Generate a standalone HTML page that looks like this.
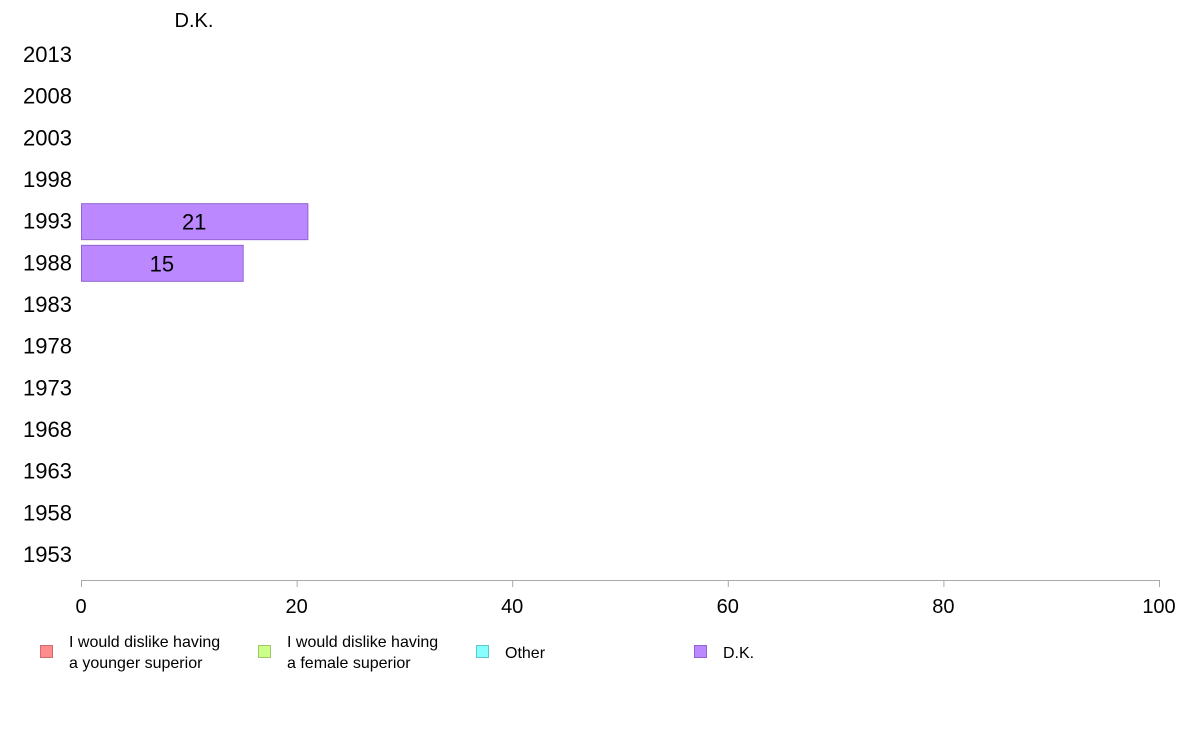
<!DOCTYPE html>
<html><head><meta charset="utf-8"><style>
body{margin:0;background:#fff;width:1188px;height:736px;overflow:hidden;font-family:"Liberation Sans",sans-serif}
</style></head><body>
<svg id="chart" width="1188" height="736" xmlns="http://www.w3.org/2000/svg" font-family="Liberation Sans, sans-serif">
<text x="194" y="27" font-size="20" text-anchor="middle" fill="#000">D.K.</text>
<line x1="81" y1="580.5" x2="1159" y2="580.5" stroke="#aaa"/>
<g id="ticks"></g><g id="cats"></g><g id="bars"></g>
<g font-size="16" fill="#000">
<rect x="40.5" y="645.5" width="12" height="12" fill="#ff8c8c" stroke="#d26b6b"/>
<text x="69" y="647"><tspan x="69">I would dislike having</tspan><tspan x="69" dy="21">a younger superior</tspan></text>
<rect x="258.5" y="645.5" width="12" height="12" fill="#ccff88" stroke="#a0c868"/>
<text x="287" y="647"><tspan x="287">I would dislike having</tspan><tspan x="287" dy="21">a female superior</tspan></text>
<rect x="476.5" y="645.5" width="12" height="12" fill="#88ffff" stroke="#60c8c8"/>
<text x="505" y="658">Other</text>
<rect x="694.5" y="645.5" width="12" height="12" fill="#bb88ff" stroke="#9266d0"/>
<text x="723" y="658">D.K.</text>
</g>
</svg>
<script>
const years = ["1953","1958","1963","1968","1973","1978","1983","1988","1993","1998","2003","2008","2013"];
const dkValues = [null,null,null,null,null,null,null,15,21,null,null,null,null];
const xTicks = [0,20,40,60,80,100];
const NS="http://www.w3.org/2000/svg";
const x = v => 81 + v*(1159-81)/100;
const y = i => 555 - i*(555-55)/(years.length-1);
function mk(t,a,p){const e=document.createElementNS(NS,t);for(const k in a)e.setAttribute(k,a[k]);p.appendChild(e);return e;}
const tk=document.getElementById('ticks'), cg=document.getElementById('cats'), bg=document.getElementById('bars');
xTicks.forEach(v=>{
  const l=mk('line',{x1:x(v)+0.5,x2:x(v)+0.5,y1:580,y2:587,stroke:'#aaa'},tk);
  
  
  const t=mk('text',{x:x(v),y:613,'font-size':20,'text-anchor':'middle',fill:'#000'},tk);
  t.textContent=v;
  
  
});
years.forEach((yr,i)=>{
  const t=mk('text',{x:72,y:y(i)+7,'font-size':22,'text-anchor':'end',fill:'#000'},cg);
  t.textContent=yr;
  
  
  const v=dkValues[i];
  if(v!=null){
    const r=mk('rect',{x:81.5,y:y(i)-18,width:x(v)-81,height:36,fill:'#bb88ff',stroke:'#9266d0'},bg);
    
    
    const lt=mk('text',{x:(81+x(v))/2,y:y(i)+8,'font-size':22,'text-anchor':'middle',fill:'#000'},bg);
    lt.textContent=v;
    
    
  }
});
</script>
</body></html>
